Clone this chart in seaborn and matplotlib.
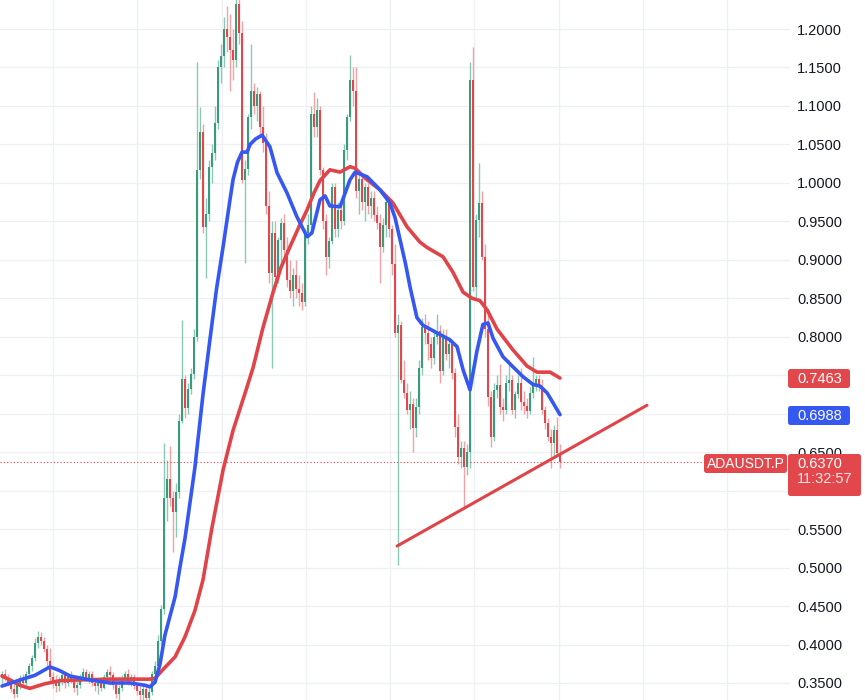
import matplotlib
matplotlib.use("Agg")
import matplotlib.pyplot as plt
from matplotlib.patches import FancyBboxPatch
import seaborn as sns
import numpy as np
import pandas as pd

# ---------------- data ----------------
opens = [
    .358, .362, .355, .350, .342, .336, .348, .356, .350, .362,
    .372, .382, .402, .410, .404, .394, .378, .358, .350, .346,
    .354, .360, .350, .358, .354, .344, .348, .358, .364, .356,
    .362, .350, .346, .352, .344, .358, .364, .360, .348, .336,
    .344, .356, .362, .352, .358, .346, .340, .334, .342, .330,
    .338, .362, .372, .405, .446, .590, .615, .590, .572, .598,
    .690, .745, .708, .732, .752, .800, 1.017, 1.066, .943, .960,
    1.020, 1.039, 1.078, 1.150, 1.165, 1.200, 1.190, 1.173, 1.160, 1.232,
    1.195, 1.004, 1.018, 1.085, 1.120, 1.100, 1.115, 1.073, 1.052, .970,
    .883, .935, .878, .926, .948, .913, .874, .860, .880, .862,
    .857, .845, .935, .945, 1.090, 1.072, 1.095, 1.017, .950, .904,
    .925, .995, .940, .965, .950, 1.043, 1.085, 1.134, 1.120, .990,
    1.005, .975, .995, .970, .980, .958, .948, .917, .945, .975,
    .940, .895, .805, .815, .744, .727, .705, .712, .682, .709,
    .760, .813, .805, .790, .772, .800, .808, .755, .800, .778,
    .790, .753, .683, .644, .655, .631, .650, 1.134, .865, .952,
    .974, .904, .810, .722, .670, .731, .737, .709, .705, .740,
    .744, .705, .725, .740, .715, .710, .703, .727, .738, .745,
    .735, .705, .688, .670, .662, .679, .649]
closes = [
    .362, .355, .350, .342, .336, .348, .356, .350, .362, .372,
    .382, .402, .410, .404, .394, .378, .358, .350, .346, .354,
    .360, .350, .358, .354, .344, .348, .358, .364, .356, .362,
    .350, .346, .352, .344, .358, .364, .360, .348, .336, .344,
    .356, .362, .352, .358, .346, .340, .334, .342, .330, .338,
    .362, .372, .405, .446, .590, .615, .590, .572, .598, .690,
    .745, .708, .732, .752, .800, 1.017, 1.066, .943, .960, 1.020,
    1.039, 1.078, 1.150, 1.165, 1.200, 1.190, 1.173, 1.160, 1.232, 1.195,
    1.004, 1.018, 1.085, 1.120, 1.100, 1.115, 1.073, 1.052, .970, .883,
    .935, .878, .926, .948, .913, .874, .860, .880, .862, .857,
    .845, .935, .945, 1.090, 1.072, 1.095, 1.017, .950, .904, .925,
    .995, .940, .965, .950, 1.043, 1.085, 1.134, 1.120, .990, 1.005,
    .975, .995, .970, .980, .958, .948, .917, .945, .975, .940,
    .895, .805, .815, .744, .727, .705, .712, .682, .709, .760,
    .813, .805, .790, .772, .800, .808, .755, .800, .778, .790,
    .753, .683, .644, .655, .631, .650, 1.134, .865, .952, .974,
    .904, .810, .722, .670, .731, .737, .709, .705, .740, .744,
    .705, .725, .740, .715, .710, .703, .727, .738, .745, .735,
    .705, .688, .670, .662, .679, .649, .637]
highs = [
    .366, .368, .362, .356, .350, .352, .360, .362, .366, .376,
    .386, .408, .418, .416, .410, .400, .396, .364, .360, .358,
    .366, .364, .362, .366, .360, .352, .362, .370, .368, .366,
    .366, .356, .356, .358, .362, .368, .372, .364, .352, .348,
    .360, .366, .368, .362, .362, .350, .346, .348, .346, .344,
    .366, .378, .412, .452, .662, .640, .658, .600, .610, .700,
    .822, .750, .740, .760, .810, 1.157, 1.099, 1.077, .980, 1.030,
    1.050, 1.100, 1.160, 1.180, 1.215, 1.230, 1.220, 1.200, 1.260, 1.260,
    1.210, 1.030, 1.090, 1.180, 1.130, 1.125, 1.120, 1.100, 1.065, .990,
    .950, .950, .930, .955, .960, .930, .900, .890, .900, .880,
    .870, .940, .960, 1.100, 1.118, 1.110, 1.100, 1.020, .960, .930,
    1.000, 1.000, .975, .970, 1.050, 1.090, 1.166, 1.150, 1.150, 1.010,
    1.010, 1.000, 1.000, .990, .990, .970, .960, .955, .985, .980,
    .945, .920, .830, .820, .770, .740, .730, .720, .720, .770,
    .825, .830, .820, .800, .810, .830, .815, .810, .810, .800,
    .795, .760, .700, .665, .665, .660, 1.157, 1.177, .960, 1.026,
    .990, .920, .830, .730, .740, .750, .765, .720, .750, .770,
    .750, .730, .750, .760, .730, .720, .735, .774, .750, .750,
    .745, .710, .695, .680, .685, .696, .660]
lows = [
    .350, .352, .346, .338, .330, .332, .342, .346, .348, .358,
    .366, .378, .396, .400, .390, .372, .352, .344, .338, .340,
    .348, .344, .346, .350, .338, .334, .344, .354, .352, .350,
    .346, .340, .336, .340, .342, .352, .356, .342, .330, .328,
    .340, .350, .348, .346, .342, .334, .326, .328, .324, .322,
    .334, .356, .368, .400, .440, .560, .580, .520, .540, .590,
    .688, .695, .700, .725, .745, .795, 1.005, .935, .876, .950,
    1.000, 1.030, 1.070, 1.130, 1.150, 1.170, 1.120, 1.134, 1.150, 1.180,
    1.000, .896, 1.010, 1.070, 1.090, 1.080, 1.060, 1.040, .960, .870,
    .760, .870, .870, .890, .900, .865, .850, .840, .850, .840,
    .835, .840, .920, .940, 1.060, 1.060, 1.010, .940, .880, .890,
    .920, .930, .930, .940, .945, 1.030, 1.080, 1.100, .980, .960,
    .965, .950, .960, .955, .950, .940, .870, .910, .930, .930,
    .880, .800, .503, .740, .720, .700, .680, .650, .670, .700,
    .750, .790, .770, .760, .765, .790, .740, .750, .770, .760,
    .745, .670, .635, .630, .579, .620, .630, .860, .850, .930,
    .900, .800, .710, .657, .665, .720, .700, .690, .700, .730,
    .700, .695, .720, .705, .700, .695, .700, .720, .730, .730,
    .700, .680, .665, .630, .645, .645, .630]

# moving averages (candle index, price)
ma_fast_idx = [0, 6, 11, 16, 19.3, 22.7, 29.3, 36, 42.7, 47.7, 49.3, 51, 52.7, 54.3,
               57.7, 59.3, 61, 64.3, 65, 67, 69.3, 71.5, 73.7, 75.5, 77, 78.5, 80,
               81.7, 82.7, 84.5, 86.7, 89.3, 91.7, 95, 98.3, 101.7, 103.3, 106, 107.7,
               109.3, 112.7, 116, 117.7, 121.7, 126, 129.3, 131, 132.7, 134.5, 136,
               138.3, 140.3, 145, 149.3, 151.7, 153.7, 156, 157.7, 158.3, 160.3, 162,
               163.7, 167, 170.3, 173.7, 177, 179.3, 181.7, 183.7, 186]
ma_fast_val = [.346, .354, .360, .371, .366, .359, .354, .350, .350, .347, .345, .351,
               .375, .412, .462, .500, .538, .630, .655, .725, .796, .862, .917, .965,
               1.004, 1.027, 1.040, 1.040, 1.050, 1.057, 1.062, 1.047, 1.013, .987,
               .956, .930, .935, .978, .983, .970, .969, 1.004, 1.014, 1.008, .991,
               .974, .955, .926, .895, .865, .825, .815, .805, .796, .787, .757, .731,
               .768, .781, .816, .818, .798, .774, .761, .748, .738, .736, .727, .714,
               .6988]
ma_slow_idx = [0, 2.7, 6, 9.3, 14.3, 19.3, 26, 36, 49.3, 51, 53.3, 57.7, 61, 64.3, 67,
               70, 73.7, 77, 81.7, 83.7, 87, 90.3, 93, 96, 99, 101.7, 104, 106, 109.3,
               112.7, 116, 117.7, 121.7, 126, 130.3, 135, 139.3, 141.7, 147, 150.3,
               153.7, 156.7, 159.3, 161.7, 165, 170.3, 175, 178.3, 182.7, 186]
ma_slow_val = [.359, .354, .347, .343, .349, .353, .354, .355, .355, .356, .366, .384,
               .410, .444, .484, .552, .627, .678, .735, .760, .812, .857, .890, .917,
               .943, .965, .987, 1.003, 1.017, 1.014, 1.021, 1.019, 1.004, .991, .974,
               .943, .923, .916, .904, .884, .858, .850, .847, .835, .810, .783, .762,
               .754, .754, .7463]

trend_idx = [131.7, 215.0]
trend_val = [0.528, 0.711]

last_price = 0.637
y_ticks = [0.35, 0.40, 0.45, 0.50, 0.55, 0.60, 0.65, 0.70, 0.75, 0.80, 0.85,
           0.90, 0.95, 1.00, 1.05, 1.10, 1.15, 1.20]
y_tick_labels = ["%.4f" % v for v in y_ticks]
time_grid = [17, 45.1, 73.2, 101.3, 129.4, 157.5, 185.6, 213.7, 241.8]

# ---------------- style ----------------
sns.set_theme(style="white")
plt.rcParams["font.family"] = ["Liberation Sans", "DejaVu Sans"]

UP = "#3b9a7c"
DOWN = "#e2474c"
UP_W = "#8cc8b4"
DOWN_W = "#f0a2a4"
BLUE = "#3557f2"
RED = "#e04449"

W, H = 865, 700
fig = plt.figure(figsize=(W / 100, H / 100), dpi=100)
ax = fig.add_axes([0, 0, 790 / W, 1])
ax.set_facecolor("white")

df = pd.DataFrame({"o": opens, "h": highs, "l": lows, "c": closes})
df["i"] = np.arange(len(df))
up = df["c"] >= df["o"]

ax.vlines(df["i"], df["l"], df["h"], colors=np.where(up, UP_W, DOWN_W), lw=1.0, zorder=2)
ax.bar(df["i"], (df["c"] - df["o"]).abs().clip(lower=0.002), bottom=df[["o", "c"]].min(axis=1),
       width=0.72, color=np.where(up, UP, DOWN), linewidth=0, zorder=3)

line_kw = dict(solid_capstyle="round", solid_joinstyle="round")
sns.lineplot(x=ma_slow_idx, y=ma_slow_val, color=RED, lw=2.6, ax=ax, zorder=5, **line_kw)
sns.lineplot(x=ma_fast_idx, y=ma_fast_val, color=BLUE, lw=2.6, ax=ax, zorder=6, **line_kw)
sns.lineplot(x=trend_idx, y=trend_val, color=RED, lw=2.2, ax=ax, zorder=7)

ax.axhline(last_price, xmin=0, xmax=705 / 790, color=RED, lw=0.8, ls=(0, (1, 2)), zorder=4)

ax.set_xlim(-2 / 3, 262.67)
ax.set_ylim(0.3279, 1.2377)
ax.set_xticks(time_grid)
ax.set_xticklabels([])
ax.set_yticks(y_ticks)
ax.set_yticklabels(y_tick_labels)
ax.yaxis.tick_right()
ax.tick_params(axis="y", length=0, pad=5, labelsize=10.5, labelcolor="#131722")
ax.tick_params(axis="x", length=0)
ax.grid(True, color="#eef0f4", lw=1.0, zorder=0)
ax.set_axisbelow(True)
for s in ax.spines.values():
    s.set_visible(False)
ax.set_xlabel("")
ax.set_ylabel("")


def box(x0, y0, x1, y1, color):
    p = FancyBboxPatch((x0 / W, 1 - y1 / H), (x1 - x0) / W, (y1 - y0) / H,
                       boxstyle="round,pad=0,rounding_size=0.003",
                       mutation_aspect=W / H, transform=fig.transFigure,
                       fc=color, ec="none", zorder=10)
    fig.add_artist(p)


def label(x, y, s, alpha=1.0, ha="left", size=10.5):
    fig.text(x / W, 1 - y / H, s, color="white", alpha=alpha, fontsize=size,
             ha=ha, va="center", zorder=11)


box(788, 369, 850, 388, DOWN)
label(797, 379, "%.4f" % ma_slow_val[-1])
box(788, 406, 850, 425, BLUE)
label(797, 416, "%.4f" % ma_fast_val[-1])
box(704, 454, 787, 473, DOWN)
label(745.5, 464, "ADAUSDT.P", ha="center", size=10)
box(788, 454, 861, 496, DOWN)
label(797, 464, "%.4f" % last_price)
label(797, 479, "11:32:57", alpha=0.85)

fig.savefig("out.png", dpi=100)
